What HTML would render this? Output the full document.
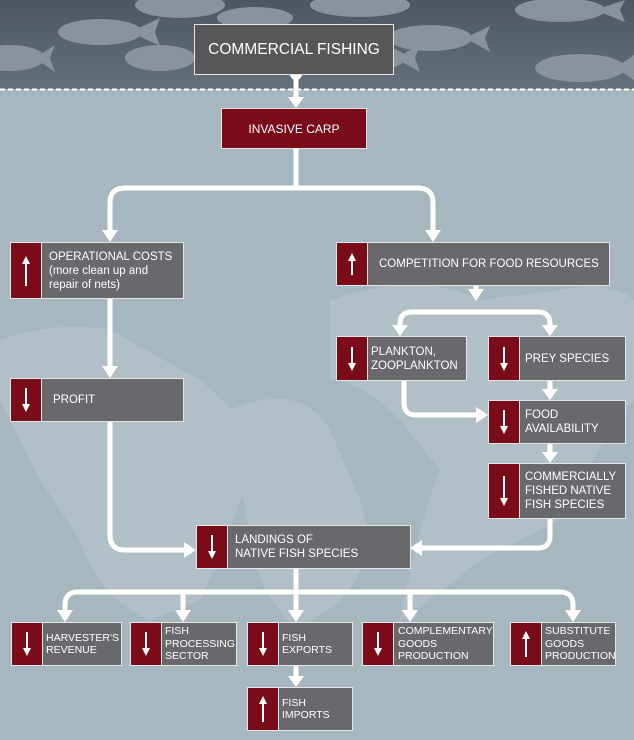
<!DOCTYPE html>
<html><head><meta charset="utf-8"><style>
body{margin:0;width:634px;height:740px;overflow:hidden;background:#a6b7bf;font-family:"Liberation Sans",sans-serif;position:relative}
.b{position:absolute;background:#68696d;border:1.5px solid #e4e6e8;box-sizing:border-box;color:#fff;font-size:11.5px;line-height:14px;display:flex;align-items:center}
.b .r{position:absolute;left:0;top:0;bottom:0;width:30px;background:#7a0c1a;border-right:1.5px solid #e4e6e8}
.b .t{margin-left:38px}
.r svg{position:absolute;left:50%;top:50%;transform:translate(-50%,-50%)}
.s{font-size:10.5px;line-height:12.5px}
</style></head><body>
<svg width="634" height="740" style="position:absolute;left:0;top:0">
<defs><linearGradient id="g" x1="0" y1="0" x2="0" y2="1"><stop offset="0" stop-color="#4e5661"/><stop offset="1" stop-color="#63717c"/></linearGradient></defs>
<rect x="0" y="0" width="634" height="89" fill="url(#g)"/>
<g fill="#8a939c">
<ellipse cx="100" cy="32" rx="42" ry="13"/><path d="M130 32 L160 18 L155 32 L160 46Z"/>
<ellipse cx="10" cy="58" rx="35" ry="13"/><path d="M35 58 L55 45 L50 58 L55 72Z"/>
<ellipse cx="180" cy="5" rx="45" ry="13"/>
<ellipse cx="160" cy="58" rx="35" ry="13"/>
<ellipse cx="255" cy="18" rx="38" ry="11"/>
<ellipse cx="360" cy="5" rx="50" ry="12"/>
<ellipse cx="375" cy="58" rx="30" ry="12"/><path d="M395 58 L420 45 L415 58 L420 72Z"/>
<ellipse cx="430" cy="38" rx="42" ry="13"/><path d="M465 38 L490 26 L485 38 L490 52Z"/>
<ellipse cx="560" cy="10" rx="45" ry="12"/><path d="M595 10 L625 0 L620 10 L625 22Z"/>
<ellipse cx="580" cy="68" rx="45" ry="14"/><path d="M615 68 L634 55 L634 80Z"/>
</g>
<line x1="0" y1="89.5" x2="634" y2="89.5" stroke="#fff" stroke-width="2" stroke-dasharray="5,3"/>
<g fill="#b8c6cc" opacity="0.6">
<path d="M0 340 Q60 320 110 330 L200 380 Q250 420 260 460 L240 500 Q220 560 200 600 L150 620 Q100 600 80 540 L40 480 Q10 420 0 400Z"/>
<path d="M230 410 Q300 380 330 430 L360 500 Q380 560 340 600 L300 630 Q260 600 250 540Z"/>
<path d="M330 300 Q420 270 480 300 L560 290 Q610 280 634 300 L634 400 Q600 440 560 520 L480 560 Q430 600 400 620 Q420 520 440 470 L400 420 Q360 380 330 380Z"/>
</g>
<g stroke="#fff" stroke-width="5" fill="none" stroke-linejoin="round">
<line x1="296" y1="74" x2="296" y2="100"/>
<path d="M296 148 V188 M125 188 H418 Q433 188 433 203 V232 M125 188 Q110 188 110 203 V232"/>
<path d="M110 298 V368"/>
<path d="M110 421 V535 Q110 550 125 550 H186"/>
<path d="M476 285 V292 M412 312 H538 Q550 312 550 324 V328 M412 312 Q400 312 400 324 V328"/>
<path d="M404 380 V403 Q404 415 416 415 H478"/>
<path d="M550 380 V392 M550 443 V455"/>
<path d="M550 518 V536 Q550 548 538 548 H420"/>
<path d="M296 568 V592 M78 592 H560 Q573 592 573 605 V612 M78 592 Q65 592 65 605 V612 M183 592 V612 M296 592 V612 M410 592 V612 M296 665 V678"/>
</g>
<circle cx="296" cy="74" r="6" fill="#fff"/>
<g fill="#fff">
<path d="M288 97 L304 97 L296 108Z"/>
<path d="M102 230 L118 230 L110 242Z"/><path d="M425 230 L441 230 L433 242Z"/>
<path d="M102 366 L118 366 L110 378Z"/>
<path d="M184 542 L184 558 L196 550Z"/>
<path d="M468 289 L484 289 L476 301Z"/>
<path d="M392 325 L408 325 L400 336Z"/><path d="M542 325 L558 325 L550 336Z"/>
<path d="M476 407 L476 423 L488 415Z"/>
<path d="M542 389 L558 389 L550 400Z"/><path d="M542 452 L558 452 L550 463Z"/>
<path d="M422 540 L422 556 L410 548Z"/>
<path d="M57 610 L73 610 L65 622Z"/><path d="M175 610 L191 610 L183 622Z"/><path d="M288 610 L304 610 L296 622Z"/><path d="M402 610 L418 610 L410 622Z"/><path d="M565 610 L581 610 L573 622Z"/>
<path d="M288 676 L304 676 L296 687Z"/>
</g>
</svg>
<div class="b" style="left:194px;top:24px;width:200px;height:51px;background:#575759;font-size:15.5px;justify-content:center">COMMERCIAL FISHING</div>
<div class="b" style="left:221px;top:108px;width:146px;height:41px;background:#7a0c1a;font-size:12px;justify-content:center">INVASIVE CARP</div>

<div class="b" style="left:10px;top:242px;width:174px;height:57px"><div class="r"><svg width="8" height="30"><path d="M4 30V6" stroke="#fff" stroke-width="2"/><path d="M0 8L4 0L8 8Z" fill="#fff"/></svg></div><div class="t">OPERATIONAL COSTS<br>(more clean up and<br>repair of nets)</div></div>
<div class="b" style="left:336px;top:242px;width:274px;height:44px"><div class="r"><svg width="8" height="22"><path d="M4 22V6" stroke="#fff" stroke-width="2"/><path d="M0 8L4 0L8 8Z" fill="#fff"/></svg></div><div class="t" style="margin-left:42px">COMPETITION FOR FOOD RESOURCES</div></div>
<div class="b" style="left:10px;top:378px;width:174px;height:44px"><div class="r"><svg width="8" height="24"><path d="M4 0V18" stroke="#fff" stroke-width="2"/><path d="M0 16L4 24L8 16Z" fill="#fff"/></svg></div><div class="t" style="margin-left:42px">PROFIT</div></div>
<div class="b" style="left:336px;top:336px;width:131px;height:45px"><div class="r"><svg width="8" height="24"><path d="M4 0V18" stroke="#fff" stroke-width="2"/><path d="M0 16L4 24L8 16Z" fill="#fff"/></svg></div><div class="t" style="margin-left:34px">PLANKTON,<br>ZOOPLANKTON</div></div>
<div class="b" style="left:488px;top:336px;width:138px;height:45px"><div class="r"><svg width="8" height="24"><path d="M4 0V18" stroke="#fff" stroke-width="2"/><path d="M0 16L4 24L8 16Z" fill="#fff"/></svg></div><div class="t" style="margin-left:36px">PREY SPECIES</div></div>
<div class="b" style="left:488px;top:400px;width:138px;height:44px"><div class="r"><svg width="8" height="24"><path d="M4 0V18" stroke="#fff" stroke-width="2"/><path d="M0 16L4 24L8 16Z" fill="#fff"/></svg></div><div class="t" style="margin-left:36px">FOOD<br>AVAILABILITY</div></div>
<div class="b" style="left:488px;top:463px;width:138px;height:56px"><div class="r"><svg width="8" height="30"><path d="M4 0V24" stroke="#fff" stroke-width="2"/><path d="M0 22L4 30L8 22Z" fill="#fff"/></svg></div><div class="t" style="margin-left:36px">COMMERCIALLY<br>FISHED NATIVE<br>FISH SPECIES</div></div>
<div class="b" style="left:196px;top:525px;width:215px;height:44px"><div class="r"><svg width="8" height="24"><path d="M4 0V18" stroke="#fff" stroke-width="2"/><path d="M0 16L4 24L8 16Z" fill="#fff"/></svg></div><div class="t">LANDINGS OF<br>NATIVE FISH SPECIES</div></div>

<div class="b s" style="left:11px;top:622px;width:111px;height:44px"><div class="r"><svg width="8" height="24"><path d="M4 0V18" stroke="#fff" stroke-width="2"/><path d="M0 16L4 24L8 16Z" fill="#fff"/></svg></div><div class="t" style="margin-left:34px">HARVESTER'S<br>REVENUE</div></div>
<div class="b s" style="left:130px;top:622px;width:107px;height:44px"><div class="r"><svg width="8" height="24"><path d="M4 0V18" stroke="#fff" stroke-width="2"/><path d="M0 16L4 24L8 16Z" fill="#fff"/></svg></div><div class="t" style="margin-left:34px">FISH<br>PROCESSING<br>SECTOR</div></div>
<div class="b s" style="left:247px;top:622px;width:106px;height:44px"><div class="r"><svg width="8" height="24"><path d="M4 0V18" stroke="#fff" stroke-width="2"/><path d="M0 16L4 24L8 16Z" fill="#fff"/></svg></div><div class="t" style="margin-left:34px">FISH<br>EXPORTS</div></div>
<div class="b s" style="left:362px;top:622px;width:132px;height:44px"><div class="r"><svg width="8" height="24"><path d="M4 0V18" stroke="#fff" stroke-width="2"/><path d="M0 16L4 24L8 16Z" fill="#fff"/></svg></div><div class="t" style="margin-left:35px">COMPLEMENTARY<br>GOODS<br>PRODUCTION</div></div>
<div class="b s" style="left:510px;top:622px;width:106px;height:44px"><div class="r"><svg width="8" height="26"><path d="M4 26V6" stroke="#fff" stroke-width="2"/><path d="M0 8L4 0L8 8Z" fill="#fff"/></svg></div><div class="t" style="margin-left:34px">SUBSTITUTE<br>GOODS<br>PRODUCTION</div></div>
<div class="b s" style="left:247px;top:687px;width:106px;height:44px"><div class="r"><svg width="8" height="26"><path d="M4 26V6" stroke="#fff" stroke-width="2"/><path d="M0 8L4 0L8 8Z" fill="#fff"/></svg></div><div class="t" style="margin-left:34px">FISH<br>IMPORTS</div></div>
</body></html>
